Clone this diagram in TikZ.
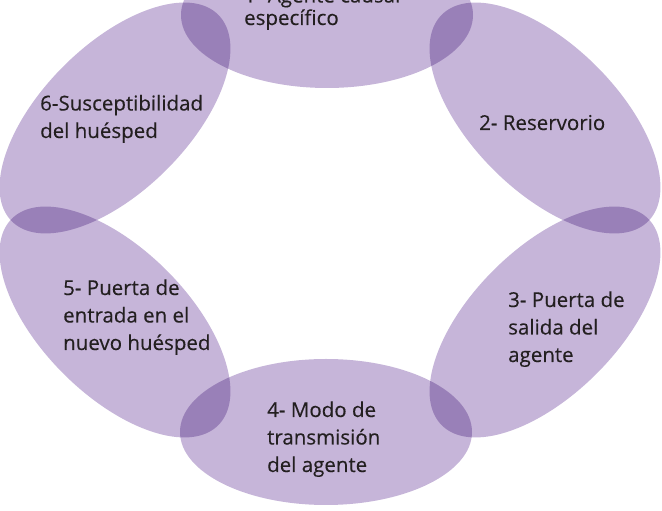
\documentclass[tikz,border=0pt]{standalone}
\usepackage{fontspec}
\setmainfont{Open Sans}[FakeBold=0.3]
\usetikzlibrary{shapes.geometric}
\definecolor{lila}{HTML}{C6B5D9}
\definecolor{tinta}{HTML}{231F20}
\begin{document}
\begin{tikzpicture}[x=1pt,y=1pt,
    anillo/.style={ellipse,fill=lila,minimum width=292pt,minimum height=146pt,inner sep=0pt},
    etiq/.style={anchor=base west,align=left,text=tinta,inner sep=0pt,font=\fontsize{20.5}{27.5}\selectfont}]
    \useasboundingbox (0,0) rectangle (662,511);
    \clip (0,0) rectangle (662,511);
    \begin{scope}[blend group=multiply]
        \node[anillo] (e1) at (327,496) {};
        \node[anillo,rotate=-45] (e2) at (545,393) {};
        \node[anillo,rotate=45] (e3) at (545,189) {};
        \node[anillo] (e4) at (326,79) {};
        \node[anillo,rotate=-45] (e5) at (115,189) {};
        \node[anillo,rotate=45] (e6) at (115,393) {};
    \end{scope}
    % textos (base = ultima linea)
    \node[etiq] (t1) at (244,486) {1- Agente causal\\[-5pt]específico};
    \node[etiq] (t2) at (479,381) {2- Reservorio};
    \node[etiq] (t3) at (508,149) {3- Puerta de\\salida del\\agente};
    \node[etiq] (t4) at (267,39) {4- Modo de\\transmisión\\del agente};
    \node[etiq] (t5) at (63,161) {5- Puerta de\\entrada en el\\nuevo huésped};
    \node[etiq] (t6) at (40,373) {6-Susceptibilidad\\del huésped};
\end{tikzpicture}
\end{document}
